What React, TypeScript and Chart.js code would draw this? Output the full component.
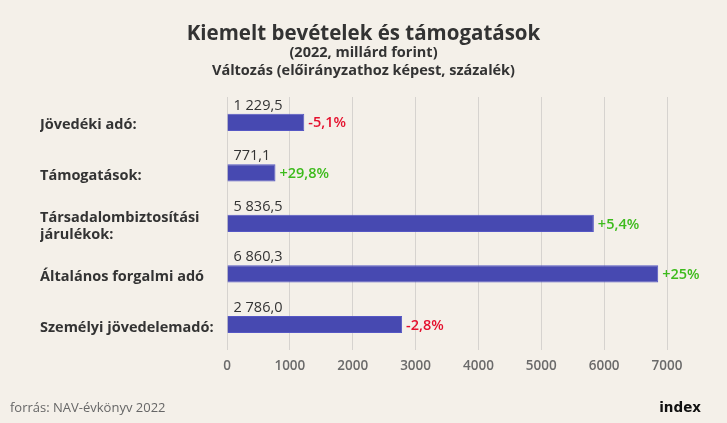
import React, { useEffect, useRef } from 'react';
import { Chart, registerables } from 'chart.js';

Chart.register(...registerables);

const titleText = 'Kiemelt bevételek és támogatások';
const subtitleLines = ['(2022, millárd forint)', 'Változás (előirányzathoz képest, százalék)'];
const categories: string[][] = [
  ['Jövedéki adó:'],
  ['Támogatások:'],
  ['Társadalombiztosítási', 'járulékok:'],
  ['Általános forgalmi adó'],
  ['Személyi jövedelemadó:'],
];
const values = [1229.5, 771.1, 5836.5, 6860.3, 2786.0];
const valueLabels = ['1 229,5', '771,1', '5 836,5', '6 860,3', '2 786,0'];
const changes = [-5.1, 29.8, 5.4, 25, -2.8];
const changeLabels = ['-5,1%', '+29,8%', '+5,4%', '+25%', '-2,8%'];
const xMax = 7000;
const xStep = 1000;

const FONT = '"Open Sans", "DejaVu Sans", sans-serif';
const BG = '#f4f0e9';

const bgPlugin = {
  id: 'bg',
  beforeDraw(chart: any) {
    const { ctx, width, height } = chart;
    ctx.save();
    ctx.fillStyle = BG;
    ctx.fillRect(0, 0, width, height);
    ctx.restore();
  },
};

const titlePlugin = {
  id: 'centeredTitle',
  afterDraw(chart: any) {
    const { ctx, width } = chart;
    ctx.save();
    ctx.textAlign = 'center';
    ctx.textBaseline = 'middle';
    ctx.fillStyle = '#333333';
    ctx.font = `bold 20.5px ${FONT}`;
    ctx.fillText(titleText, width / 2, 34.5);
    ctx.font = `bold 14.5px ${FONT}`;
    subtitleLines.forEach((t, i) => ctx.fillText(t, width / 2, 53 + i * 18));
    ctx.restore();
  },
};

const labelPlugin = {
  id: 'barLabels',
  afterDatasetsDraw(chart: any) {
    const { ctx } = chart;
    const meta = chart.getDatasetMeta(0);
    ctx.save();
    meta.data.forEach((bar: any, i: number) => {
      const { x, y, base, height } = bar.getProps(['x', 'y', 'base', 'height'], true);
      ctx.font = `500 14.5px ${FONT}`;
      ctx.fillStyle = '#333333';
      ctx.textAlign = 'left';
      ctx.textBaseline = 'alphabetic';
      ctx.fillText(valueLabels[i], base + 6, y - height / 2 - 4);
      ctx.font = `600 14.5px ${FONT}`;
      ctx.fillStyle = changes[i] < 0 ? '#e5112e' : '#3dbb1c';
      ctx.textBaseline = 'middle';
      ctx.fillText(changeLabels[i], x + 4, y + 1);
    });
    ctx.restore();
  },
};

const footerPlugin = {
  id: 'footer',
  afterDraw(chart: any) {
    const { ctx, width, height } = chart;
    ctx.save();
    ctx.font = `400 13px ${FONT}`;
    ctx.fillStyle = '#666666';
    ctx.textAlign = 'left';
    ctx.textBaseline = 'alphabetic';
    ctx.fillText('forrás: NAV-évkönyv 2022', 10, height - 11);
    ctx.font = `bold 13.5px "DejaVu Sans", sans-serif`;
    ctx.fillStyle = '#111111';
    ctx.textAlign = 'right';
    ctx.fillText('index', width - 26, height - 11);
    ctx.restore();
  },
};

export default function App() {
  const ref = useRef<HTMLCanvasElement | null>(null);
  useEffect(() => {
    if (!ref.current) return;
    const chart = new Chart(ref.current, {
      type: 'bar',
      data: {
        labels: categories,
        datasets: [
          {
            data: values,
            backgroundColor: '#4749b1',
            borderColor: '#5557c4',
            borderWidth: 1,
            barPercentage: 0.68,
            categoryPercentage: 0.5,
          },
        ],
      },
      plugins: [bgPlugin, labelPlugin, titlePlugin, footerPlugin],
      options: {
        indexAxis: 'y',
        responsive: false,
        animation: false,
        layout: { padding: { left: 40, right: 60, top: 97, bottom: 41 } },
        plugins: {
          legend: { display: false },
          tooltip: { enabled: false },
          title: { display: false },
        },
        scales: {
          x: {
            min: 0,
            max: xMax,
            grid: { color: '#d6d3cf', lineWidth: 1, drawTicks: false },
            border: { display: false },
            ticks: {
              stepSize: xStep,
              color: '#6a6a6a',
              padding: 8,
              font: { family: FONT, size: 13.5, weight: 600 },
              callback: (v: any) => String(v),
            },
          },
          y: {
            grid: { display: false },
            border: { display: false },
            afterFit: (scale: any) => {
              scale.width = 187;
            },
            ticks: {
              crossAlign: 'far',
              color: '#333333',
              labelOffset: 3,
              font: { family: FONT, size: 14.5, weight: 'bold', lineHeight: 1.15 },
            },
          },
        },
      } as any,
    });
    return () => chart.destroy();
  }, []);
  return (
    <div style={{ position: 'fixed', left: 0, top: 0, width: 727, height: 423, background: BG }}>
      <canvas ref={ref} width={727} height={423} />
    </div>
  );
}
